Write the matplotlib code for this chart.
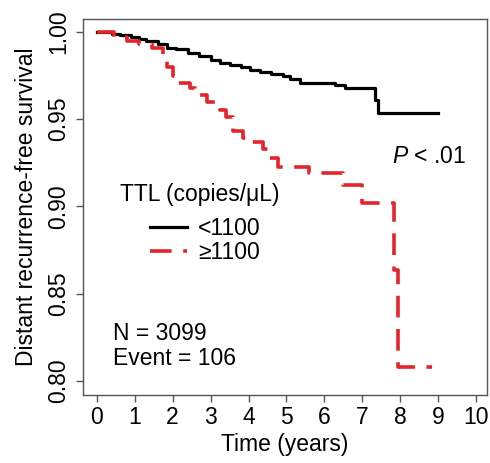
import matplotlib
matplotlib.use('Agg')
import matplotlib.pyplot as plt
from matplotlib.lines import Line2D

plt.rcParams['font.family'] = ['Liberation Sans', 'DejaVu Sans']
plt.rcParams['mathtext.fontset'] = 'custom'
plt.rcParams['mathtext.it'] = 'Liberation Sans:italic'
plt.rcParams['mathtext.rm'] = 'Liberation Sans'

# 生存曲线数据
low_time = [0, 0.4, 0.6, 0.9, 1.1, 1.3, 1.6, 1.85, 2.1, 2.4, 2.7, 3.0, 3.25, 3.5,
            3.8, 4.05, 4.3, 4.6, 4.9, 5.1, 5.36, 6.28, 6.54, 7.33, 7.42, 9.0]
low_surv = [1.0, 0.999, 0.998, 0.997, 0.996, 0.995, 0.993, 0.991, 0.990, 0.988,
            0.986, 0.984, 0.982, 0.981, 0.980, 0.978, 0.977, 0.976, 0.975, 0.973,
            0.971, 0.9697, 0.968, 0.961, 0.9536, 0.9536]

high_time = [0, 0.45, 0.8, 1.1, 1.45, 1.75, 1.85, 2.0, 2.1, 2.45, 2.6, 2.9, 3.25,
             3.4, 3.6, 3.85, 4.1, 4.38, 4.56, 4.78, 5.6, 6.5, 7.0, 7.83, 7.93, 8.85]
high_surv = [1.0, 0.997, 0.995, 0.993, 0.991, 0.985, 0.980, 0.975, 0.971, 0.968,
             0.964, 0.960, 0.955, 0.951, 0.943, 0.939, 0.937, 0.933, 0.928, 0.9226,
             0.919, 0.912, 0.902, 0.8635, 0.808, 0.808]

group_labels = ['<1100', '\u22651100']
x_ticks = list(range(0, 11))
y_ticks = [0.80, 0.85, 0.90, 0.95, 1.00]

fs = 16.5
fig = plt.figure(figsize=(4.9, 4.63), dpi=100)
ax = fig.add_axes([0.169, 0.147, 0.825, 0.812])

red = '#e3242b'
ax.step(low_time, low_surv, where='post', color='black', lw=2.3)
ax.step(high_time, high_surv, where='post', color=red, lw=2.6, dashes=(6, 3.2))

ax.set_xlim(-0.37, 10.29)
ax.set_ylim(0.792, 1.0074)
ax.set_xticks(x_ticks)
ax.set_yticks(y_ticks)
ax.set_yticklabels(['%.2f' % v for v in y_ticks], rotation=90, va='center')
ax.tick_params(labelsize=fs, length=5, width=1, color='#555555')
ax.tick_params(axis='x', pad=3)
ax.tick_params(axis='y', pad=4)
for s in ax.spines.values():
    s.set_color('#555555')
    s.set_linewidth(1)

ax.set_xlabel('Time (years)', fontsize=fs)
ax.set_ylabel('Distant recurrence-free survival', fontsize=fs)
ax.xaxis.set_label_coords(0.5, -0.1)
ax.yaxis.set_label_coords(-0.11, 0.5)

# 图例
ax.text(0.61, 0.903, 'TTL (copies/\u03bcL)', fontsize=fs)
handles = [Line2D([], [], color='black', lw=2.3),
           Line2D([], [], color=red, lw=2.6, dashes=(6, 3.2))]
ax.legend(handles, group_labels, loc='upper left', bbox_to_anchor=(0.166, 0.472),
          frameon=False, fontsize=fs, borderpad=0, borderaxespad=0,
          handlelength=1.6, handletextpad=0.5, labelspacing=0.02)

ax.text(7.78, 0.925, r'$\mathit{P}$ < .01', fontsize=fs)
ax.text(0.42, 0.8235, 'N = 3099', fontsize=fs)
ax.text(0.42, 0.8092, 'Event = 106', fontsize=fs)

fig.savefig('out.png', dpi=100)
